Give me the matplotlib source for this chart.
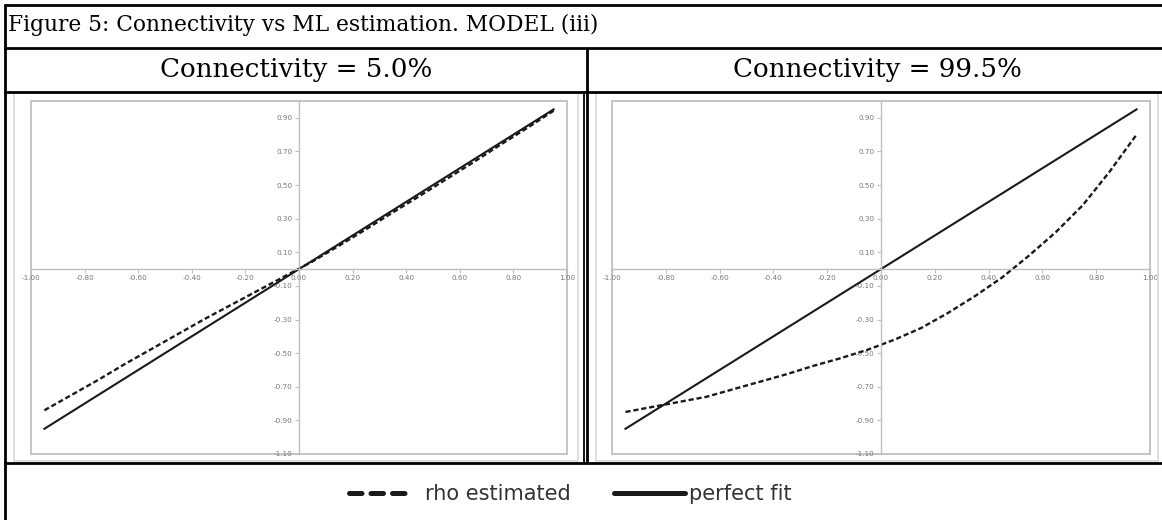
import matplotlib
matplotlib.use("Agg")
import matplotlib.pyplot as plt
from matplotlib.lines import Line2D
from matplotlib.patches import Rectangle

# Data
rho_true = [-0.95, -0.85, -0.75, -0.65, -0.55, -0.45, -0.35, -0.25, -0.15, -0.05,
            0.05, 0.15, 0.25, 0.35, 0.45, 0.55, 0.65, 0.75, 0.85, 0.95]
perfect_fit = [-0.95, -0.85, -0.75, -0.65, -0.55, -0.45, -0.35, -0.25, -0.15, -0.05,
               0.05, 0.15, 0.25, 0.35, 0.45, 0.55, 0.65, 0.75, 0.85, 0.95]
rho_est_low = [-0.84, -0.75, -0.66, -0.565, -0.475, -0.385, -0.295, -0.21, -0.125, -0.04,
               0.045, 0.14, 0.237, 0.337, 0.435, 0.535, 0.635, 0.738, 0.838, 0.942]
rho_est_high = [-0.85, -0.82, -0.79, -0.76, -0.715, -0.67, -0.625, -0.575, -0.53, -0.48,
                -0.42, -0.35, -0.26, -0.16, -0.05, 0.08, 0.22, 0.38, 0.58, 0.80]
x_ticks = [-1.0, -0.8, -0.6, -0.4, -0.2, 0.0, 0.2, 0.4, 0.6, 0.8, 1.0]
y_ticks = [-1.1, -0.9, -0.7, -0.5, -0.3, -0.1, 0.1, 0.3, 0.5, 0.7, 0.9]
title = "Figure 5: Connectivity vs ML estimation. MODEL (iii)"
headers = ["Connectivity = 5.0%", "Connectivity = 99.5%"]
labels = ["rho estimated", "perfect fit"]

W, H = 1162, 520
fig = plt.figure(figsize=(W / 100, H / 100), dpi=100)
fig.patch.set_facecolor("white")


def fx(px):
    return px / W


def fy(py):
    return 1 - py / H


def fline(xs, ys, lw=2.0, color="black", **kw):
    fig.add_artist(Line2D([fx(v) for v in xs], [fy(v) for v in ys],
                          transform=fig.transFigure, color=color, lw=lw,
                          solid_capstyle="butt", **kw))


# Table grid
for y in [5, 48, 92, 463]:
    fline([4, W], [y, y])
fline([5, 5], [4, H])
fline([587, 587], [48, 463])
fline([583.5, 583.5], [92, 463], lw=1.3)

# Title and headers
fig.text(fx(8), fy(25), title, ha="left", va="center", family="DejaVu Serif", fontsize=15.7)
fig.text(fx(296), fy(70), headers[0], ha="center", va="center", family="DejaVu Serif", fontsize=18.8)
fig.text(fx(877), fy(70), headers[1], ha="center", va="center", family="DejaVu Serif", fontsize=18.8)

# Chart area borders
for x0, x1 in [(14, 578), (596, 1158)]:
    fig.add_artist(Rectangle((fx(x0), fy(461)), fx(x1) - fx(x0), fy(93) - fy(461),
                             transform=fig.transFigure, fill=False, ec="#d9d9d9", lw=1.2))

grey = "#bfbfbf"
line_col = "#1a1a1a"


def panel(ax, est):
    ax.plot(rho_true, perfect_fit, color=line_col, lw=1.5)
    ax.plot(rho_true, est, color=line_col, lw=1.7, ls=(0, (2.2, 1.2)))
    ax.set_xlim(-1.0, 1.0)
    ax.set_ylim(-1.1, 1.0)
    ax.set_xticks(x_ticks)
    ax.set_xticklabels([f"{v:.2f}" for v in x_ticks])
    ax.set_yticks(y_ticks)
    ax.set_yticklabels([f"{v:.2f}" for v in y_ticks])
    for side in ["top", "right"]:
        ax.spines[side].set_visible(False)
    for side in ["left", "bottom"]:
        ax.spines[side].set_position(("data", 0))
        ax.spines[side].set_color(grey)
        ax.spines[side].set_linewidth(1.0)
    ax.add_patch(Rectangle((0, 0), 1, 1, transform=ax.transAxes, fill=False,
                           ec=grey, lw=1.3, clip_on=False))
    ax.tick_params(labelsize=5.2, labelcolor="#777777", color=grey, length=3,
                   width=0.8, direction="out", pad=1.5)


ax_low = fig.add_axes([fx(31), fy(454), fx(567) - fx(31), fy(101) - fy(454)])
panel(ax_low, rho_est_low)
ax_high = fig.add_axes([fx(612), fy(454), fx(1150) - fx(612), fy(101) - fy(454)])
panel(ax_high, rho_est_high)

# Legend row
fig.add_artist(Line2D([fx(349), fx(408)], [fy(493), fy(493)], transform=fig.transFigure,
                      color=line_col, lw=3.6, ls=(0, (2.5, 1.8)), dash_capstyle="round"))
fig.text(fx(425), fy(494), labels[0], ha="left", va="center", family="DejaVu Sans",
         fontsize=15, color="#333333")
fig.add_artist(Line2D([fx(614), fx(685)], [fy(493), fy(493)], transform=fig.transFigure,
                      color=line_col, lw=3.6, solid_capstyle="round"))
fig.text(fx(689), fy(494), labels[1], ha="left", va="center", family="DejaVu Sans",
         fontsize=15, color="#333333")

fig.savefig("out.png", dpi=100, facecolor="white")
